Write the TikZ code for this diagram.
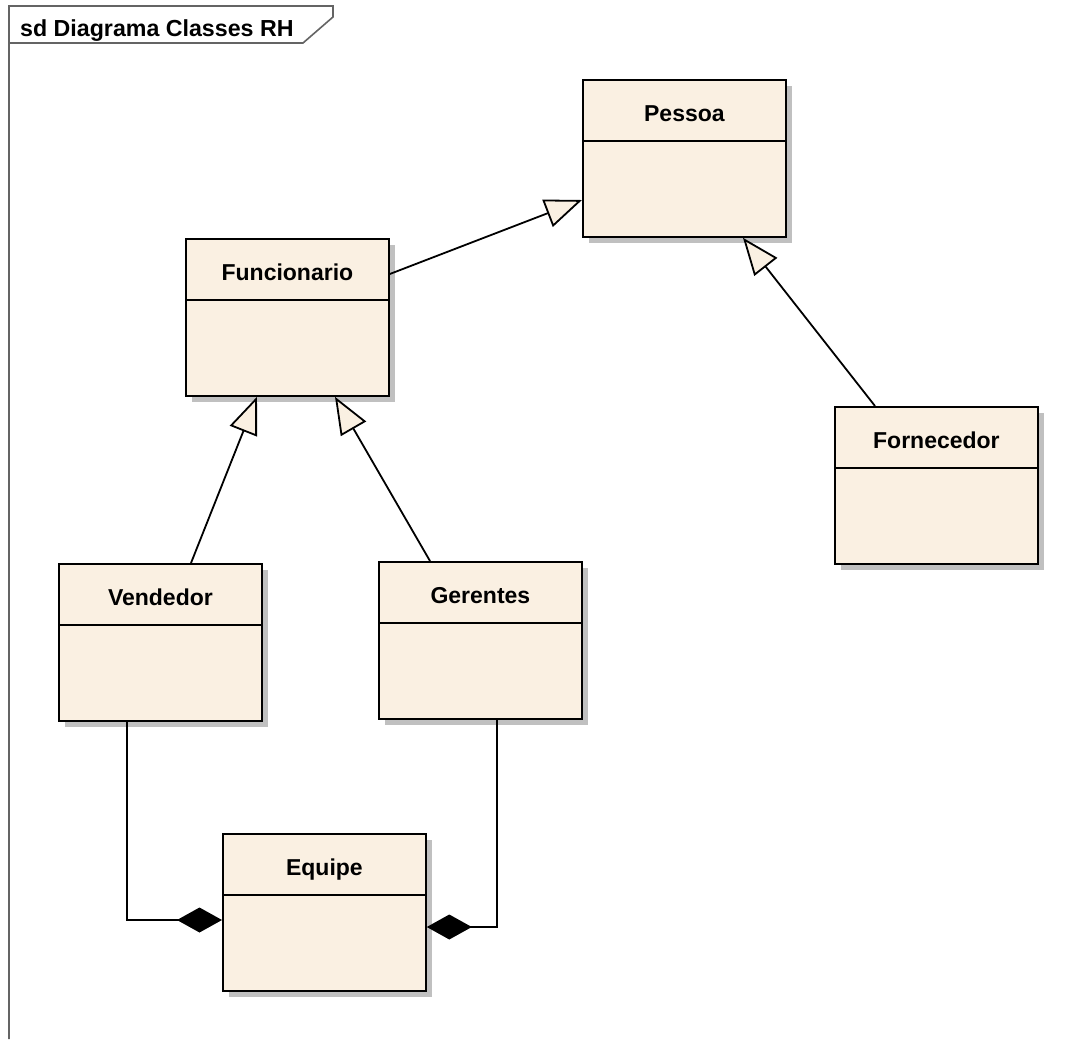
\documentclass[tikz,border=0pt]{standalone}
\usepackage{fontspec}
\setmainfont{Liberation Sans}
\usetikzlibrary{arrows.meta,calc}
\definecolor{classfill}{RGB}{250,240,226}
\definecolor{shadowc}{RGB}{192,192,192}
\definecolor{framec}{RGB}{100,100,100}
\tikzset{
  classbox/.style={draw=black, fill=classfill, line width=1.8pt, minimum width=203pt, minimum height=157pt, inner sep=0pt, anchor=north west},
  classtitle/.style={font=\fontsize{23}{27}\selectfont\bfseries, inner sep=0pt, anchor=base},
  divider/.style={line width=1.8pt},
  conn/.style={line width=1.8pt},
  gen/.style={conn, -{Triangle[fill=classfill, length=37pt, width=29pt]}},
  comp/.style={conn, -{Diamond[length=45pt, width=25pt]}},
  frameline/.style={draw=framec, line width=1.6pt}
}
\newcommand{\umlclass}[4]{%
  \fill[shadowc] (#2+7,#3+7) rectangle ++(203,157);
  \node[classbox] (#1) at (#2,#3) {};
  \draw[divider] ($(#1.north west)+(0,62)$) -- ($(#1.north east)+(0,62)$);
  \node[classtitle] (#1-t) at ($(#1.north)+(0,42)$) {#4};
}
\begin{document}
\begin{tikzpicture}[x=1pt,y=-1pt]
\useasboundingbox (0,0) rectangle (1075,1039);
\fill[white] (0,0) rectangle (1075,1039);
% frame
\draw[frameline] (9,1039) -- (9,6) -- (333,6) -- (333,17) -- (303,43) -- (9,43);
\node[font=\fontsize{23.2}{27}\selectfont\bfseries, anchor=base west, inner sep=0pt] (title) at (20,36) {sd Diagrama Classes RH};
% classes
\umlclass{pessoa}{582}{79}{Pessoa}
\umlclass{func}{185}{238}{Funcionario}
\umlclass{forn}{834}{406}{Fornecedor}
\umlclass{vend}{58}{563}{Vendedor}
\umlclass{ger}{378}{561}{Gerentes}
\umlclass{equipe}{222}{833}{Equipe}
% generalizations
\draw[gen] ($(func.north east)+(0,36)$) -- ($(pessoa.north west)+(0,121)$);
\draw[gen] ($(forn.north west)+(41,0)$) -- ($(pessoa.south west)+(161,0)$);
\draw[gen] ($(vend.north west)+(133,0)$) -- ($(func.south west)+(72,0)$);
\draw[gen] ($(ger.north west)+(52,0)$) -- ($(func.south west)+(150,0)$);
% compositions
\draw[comp] ($(vend.south west)+(69,0)$) |- ($(equipe.north west)+(0,87)$);
\draw[comp] ($(ger.south west)+(119,0)$) |- ($(equipe.north east)+(0,94)$);
\end{tikzpicture}
\end{document}
